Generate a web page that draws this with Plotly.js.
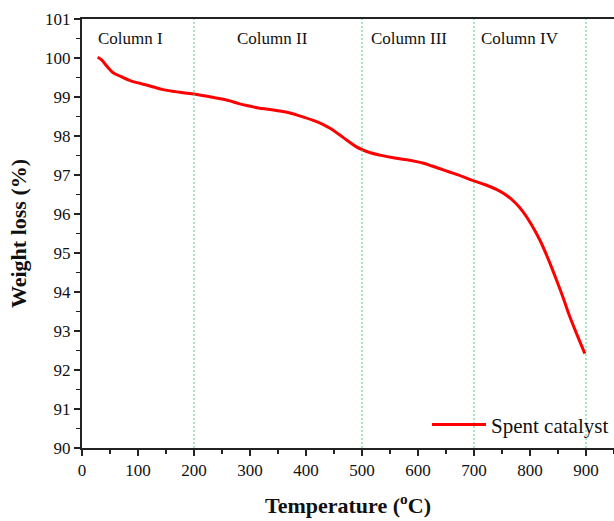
<!DOCTYPE html>
<html>
<head>
<meta charset="utf-8">
<script src="https://cdn.plot.ly/plotly-3.0.1.min.js"></script>
<style>html,body{margin:0;padding:0;background:#fff}#chart{width:614px;height:521px}</style>
</head>
<body>
<div id="chart"></div>
<script>
const temperature = [28, 35, 45, 55, 70, 86, 120, 145, 175, 202, 230, 250, 264, 280, 294, 315, 336, 366, 390, 413, 430, 443, 458, 473, 488, 500, 515, 532, 556, 580, 595, 610, 625, 645, 670, 700, 720, 740, 759, 775, 788, 803, 818, 833, 848, 860, 871, 885, 898];
const weightLoss = [100.02, 99.95, 99.78, 99.63, 99.52, 99.42, 99.29, 99.19, 99.12, 99.07, 99.0, 98.95, 98.9, 98.83, 98.78, 98.72, 98.68, 98.61, 98.51, 98.4, 98.3, 98.2, 98.05, 97.89, 97.74, 97.65, 97.57, 97.51, 97.44, 97.39, 97.35, 97.3, 97.23, 97.13, 97.01, 96.85, 96.75, 96.63, 96.47, 96.27, 96.05, 95.72, 95.32, 94.83, 94.28, 93.82, 93.37, 92.87, 92.42];
const boundaries = [200, 500, 700, 900];
const columnLabels = ["Column I", "Column II", "Column III", "Column IV"];
const columnLabelX = [86, 340, 584, 783];
const seriesName = "Spent catalyst";

const font = "Liberation Serif, Times New Roman, serif";

const shapes = boundaries.map(b => ({
  type: "line", xref: "x", yref: "paper", x0: b, x1: b, y0: 0, y1: 1,
  line: {color: "#55c982", width: 1, dash: "2px,2px"}
}));
const annotations = columnLabels.map((t, i) => ({
  text: t, x: columnLabelX[i], y: 100.5, xref: "x", yref: "y",
  showarrow: false, font: {family: font, size: 17, color: "#111"}
}));

const data = [{
  x: temperature, y: weightLoss, type: "scatter", mode: "lines",
  name: seriesName, line: {color: "#ff0000", width: 3, shape: "spline", smoothing: 1}
}];

const layout = {
  width: 614, height: 521,
  margin: {l: 82, r: 0, t: 19, b: 73},
  paper_bgcolor: "#fff", plot_bgcolor: "#fff",
  font: {family: font, color: "#111"},
  showlegend: true,
  legend: {x: 1, xanchor: "right", y: 0.006, yanchor: "bottom", bgcolor: "rgba(0,0,0,0)",
           font: {family: font, size: 21, color: "#111"}, itemwidth: 54},
  xaxis: {
    range: [0, 950], tickvals: [0,100,200,300,400,500,600,700,800,900],
    showgrid: false, zeroline: false, showline: true, linecolor: "#222", linewidth: 2, mirror: true,
    ticks: "outside", ticklen: 6, tickwidth: 2, tickcolor: "#222",
    minor: {dtick: 50, ticks: "outside", ticklen: 4, tickwidth: 1.5, tickcolor: "#222", showgrid: false},
    tickfont: {family: font, size: 17, color: "#111"},
    title: {text: "<b>Temperature (<sup>o</sup>C)</b>", font: {family: font, size: 22, color: "#111"}, standoff: 18}
  },
  yaxis: {
    range: [90, 101], dtick: 1,
    showgrid: false, zeroline: false, showline: true, linecolor: "#222", linewidth: 2, mirror: true,
    ticks: "outside", ticklen: 6, tickwidth: 2, tickcolor: "#222",
    minor: {dtick: 0.5, ticks: "outside", ticklen: 4, tickwidth: 1.5, tickcolor: "#222", showgrid: false},
    tickfont: {family: font, size: 17, color: "#111"},
    title: {text: "<b>Weight loss (%)</b>", font: {family: font, size: 22, color: "#111"}, standoff: 12}
  },
  shapes: shapes,
  annotations: annotations
};

Plotly.newPlot("chart", data, layout, {displayModeBar: false, staticPlot: true});
</script>
</body>
</html>
